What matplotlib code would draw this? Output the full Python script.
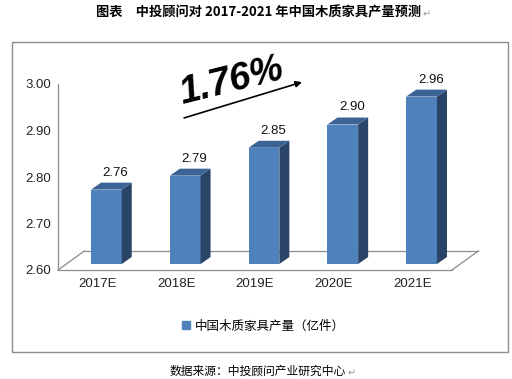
import matplotlib
matplotlib.use("Agg")
import matplotlib.pyplot as plt
from matplotlib.patches import Polygon, Rectangle
from matplotlib.lines import Line2D

categories = ["2017E", "2018E", "2019E", "2020E", "2021E"]
values = [2.76, 2.79, 2.85, 2.90, 2.96]
value_labels = ["2.76", "2.79", "2.85", "2.90", "2.96"]
yticks = [2.60, 2.70, 2.80, 2.90, 3.00]
ytick_labels = ["2.60", "2.70", "2.80", "2.90", "3.00"]
series_name = "中国木质家具产量（亿件）"
title = "图表　中投顾问对 2017-2021 年中国木质家具产量预测"
source = "数据来源：中投顾问产业研究中心"
growth = "1.76%"

FRONT = "#4F81BD"
SIDE = "#2A4468"
TOP = "#3B6396"
GRAY = "#8C8C8C"
NUM_FONT = ["Liberation Sans", "DejaVu Sans"]
CJK = ["Noto Sans CJK SC", "DejaVu Sans"]

fig = plt.figure(figsize=(5.12, 3.79), dpi=100)
W, H = 512.0, 379.0

# outer frame
fig.add_artist(Rectangle((12 / W, 1 - 352 / H), 496 / W, 310 / H,
                         transform=fig.transFigure, fill=False,
                         edgecolor=GRAY, lw=1.0))

ax = fig.add_axes([58 / W, 1 - 270 / H, 394 / W, 186 / H])
ax.set_xlim(-0.5, len(categories) - 0.5)
ax.set_ylim(2.60, 3.00)
ax.patch.set_alpha(0)
for s in ["top", "right", "bottom"]:
    ax.spines[s].set_visible(False)
ax.spines["left"].set_color(GRAY)
ax.spines["left"].set_linewidth(0.9)

# 3D depth geometry (in data units)
floor_dx, floor_dy = 0.335, 0.041
bar_sx, bar_sy = 0.114, 0.0129
bar_w = 0.39
bar_dx, bar_dy = 0.127, 0.015

x0, x1 = -0.5, len(categories) - 0.5
y0 = 2.60
floor_kw = dict(color=GRAY, lw=0.9, clip_on=False, zorder=1)
ax.plot([x0, x1], [y0, y0], **floor_kw)
ax.plot([x0, x0 + floor_dx], [y0, y0 + floor_dy], **floor_kw)
ax.plot([x0 + floor_dx, x1 + floor_dx], [y0 + floor_dy, y0 + floor_dy], **floor_kw)
ax.plot([x1, x1 + floor_dx], [y0, y0 + floor_dy], **floor_kw)

for i, (v, lab) in enumerate(zip(values, value_labels)):
    xl = i + bar_sx - bar_w / 2
    xr = xl + bar_w
    yb = y0 + bar_sy
    yt = v + bar_sy
    ax.add_patch(Polygon([(xl, yb), (xr, yb), (xr, yt), (xl, yt)], closed=True,
                         facecolor=FRONT, edgecolor="none", zorder=3, clip_on=False))
    ax.add_patch(Polygon([(xr, yb), (xr + bar_dx, yb + bar_dy), (xr + bar_dx, yt + bar_dy), (xr, yt)],
                         closed=True, facecolor=SIDE, edgecolor="none", zorder=3, clip_on=False))
    ax.add_patch(Polygon([(xl, yt), (xr, yt), (xr + bar_dx, yt + bar_dy), (xl + bar_dx, yt + bar_dy)],
                         closed=True, facecolor=TOP, edgecolor="none", zorder=3, clip_on=False))
    ax.text(i + 0.23, v + 0.0495, lab, ha="center", va="center", fontsize=9.5,
            family=NUM_FONT, color="#111111", zorder=4)

ax.set_xticks(range(len(categories)))
ax.set_xticklabels(categories, family=NUM_FONT, fontsize=9.5, color="#222222")
ax.set_yticks(yticks)
ax.set_yticklabels(ytick_labels, family=NUM_FONT, fontsize=9.5, color="#222222")
ax.tick_params(axis="both", length=0)
ax.tick_params(axis="x", pad=6)
ax.tick_params(axis="y", pad=5)

# growth annotation
ax.annotate("", xy=(2.596, 3.004), xytext=(1.10, 2.927),
            arrowprops=dict(arrowstyle="-|>", color="black", lw=1.2,
                            mutation_scale=9, shrinkA=0, shrinkB=0),
            annotation_clip=False)
ax.text(1.70, 3.006, growth, ha="center", va="center", rotation=14,
        fontsize=27, style="italic", fontweight="bold", family=NUM_FONT,
        color="black", rotation_mode="anchor", clip_on=False)

# legend
handle = Line2D([], [], marker="s", linestyle="none", markersize=5.5,
                markerfacecolor=FRONT, markeredgecolor=FRONT)
fig.legend([handle], [series_name], loc="center", bbox_to_anchor=(0.513, 1 - 326 / H),
           frameon=False, prop=dict(family=CJK, size=9), handlelength=0.8,
           handletextpad=0.3, borderpad=0)

# title and source
t = fig.text(0.505, 1 - 12.5 / H, title, ha="center", va="center", fontsize=9.5,
             fontweight="bold", family=CJK, color="black")
ax.annotate("↵", xy=(1.0, 0.35), xycoords=t, xytext=(1, 0), textcoords="offset points",
            ha="left", va="center", fontsize=7, color="#999999",
            family=["DejaVu Sans"], annotation_clip=False)
s = fig.text(0.503, 1 - 371 / H, source, ha="center", va="center", fontsize=8.5,
             family=CJK, color="black")
ax.annotate("↵", xy=(1.0, 0.35), xycoords=s, xytext=(1, 0), textcoords="offset points",
            ha="left", va="center", fontsize=7, color="#999999",
            family=["DejaVu Sans"], annotation_clip=False)

fig.savefig("out.png", dpi=100)
